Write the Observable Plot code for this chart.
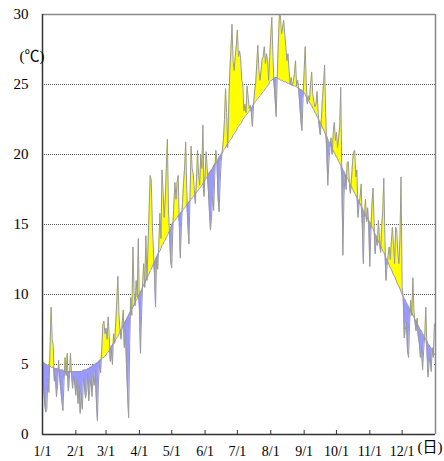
<!DOCTYPE html>
<html><head><meta charset="utf-8">
<script src="https://cdn.jsdelivr.net/npm/d3@7"></script>
<script src="https://cdn.jsdelivr.net/npm/@observablehq/plot@0.6"></script>
<style>body{margin:0;background:#fff}</style>
</head><body><div id="chart"></div>
<script>
const monthLabels = ["1/1","2/1","3/1","4/1","5/1","6/1","7/1","8/1","9/1","10/1","11/1","12/1"];
const monthStarts = [0,31,59,90,120,151,181,212,243,273,304,334];
const yTicks = [0,5,10,15,20,25,30];
const gridValues = [5,10,15,20,25];

// daily mean temperature (℃), one array per month
const dailyTemp = [
  [5.3,3.5,2.2,1.6,1.8,4.0,3.0,6.2,9.1,6.8,6.3,3.8,4.2,2.7,3.5,5.3,4.0,3.2,2.4,1.7,3.8,5.5,4.2,5.8,3.1,4.0,5.8,4.3,3.3,4.2,3.6],
  [2.8,3.9,2.2,3.5,1.5,3.0,1.8,4.0,3.4,2.6,3.0,4.4,2.4,3.3,4.0,2.7,4.2,3.5,4.6,2.5,1.0,3.8,5.0,4.4,6.0,7.8,8.1,7.2],
  [7.6,6.8,8.4,7.0,5.2,6.0,5.0,7.2,6.5,8.0,9.5,11.3,8.6,7.4,6.8,7.9,8.9,6.2,7.5,5.0,3.0,1.2,6.5,9.8,8.5,13.4,10.2,9.2,11.0,9.8,14.0],
  [9.0,5.8,8.5,10.8,12.2,10.5,14.2,11.0,13.5,16.0,18.5,18.2,15.0,13.2,11.5,9.1,12.6,11.8,13.5,15.8,14.0,18.9,17.4,15.5,16.8,19.0,21.1,16.0,14.3,12.4],
  [11.9,14.5,16.5,18.0,16.8,18.0,18.5,15.2,12.6,14.8,16.5,18.0,19.1,20.9,17.5,15.0,13.6,16.8,20.6,19.0,18.6,17.5,16.5,18.2,20.3,18.5,17.8,20.0,19.0,22.1,17.0],
  [18.5,20.2,19.0,17.5,16.0,14.6,15.5,17.0,16.0,18.5,20.3,19.5,17.0,15.9,18.0,19.5,20.3,21.0,22.5,24.7,23.0,20.5,23.5,26.0,27.5,29.3,26.7,26.0,27.0,27.8],
  [28.9,27.0,27.4,26.9,25.3,25.1,23.1,23.6,23.0,24.9,24.1,23.3,23.5,23.0,22.0,23.5,24.5,25.1,26.5,27.8,26.0,25.3,26.0,26.8,27.0,27.7,26.5,27.2,26.7,25.3,27.0],
  [28.5,29.8,27.0,25.1,24.0,22.7,25.5,28.0,30.0,29.9,28.6,29.0,29.6,28.6,27.7,26.7,27.2,26.0,25.0,25.5,24.9,25.2,25.8,26.7,24.9,25.3,24.6,23.5,22.4,21.7,24.0],
  [26.0,27.7,25.0,23.6,24.2,23.9,25.0,25.9,24.3,23.8,23.4,23.6,24.5,23.0,22.0,21.4,22.5,24.0,25.0,26.4,23.0,20.3,17.8,19.5,20.5,21.2,20.0,21.5,22.3,21.0],
  [21.6,20.5,21.2,22.0,24.8,18.5,12.8,17.0,18.6,17.5,19.4,19.5,18.0,17.2,18.3,19.5,20.2,20.3,18.4,18.9,15.5,16.4,17.0,17.9,15.0,12.2,15.5,16.8,15.2,16.2,15.0],
  [12.0,14.5,16.5,17.6,15.0,12.9,14.0,13.5,15.3,14.0,13.0,14.8,16.0,18.3,14.0,11.0,12.0,12.8,13.4,12.5,13.8,14.8,13.5,12.2,14.8,14.6,13.0,12.2,14.0,18.4],
  [10.5,9.8,6.9,7.5,8.0,6.0,5.5,8.0,9.6,8.5,11.2,8.8,8.0,7.4,8.3,7.0,6.5,5.5,6.3,4.6,6.0,7.0,9.1,6.2,4.1,5.0,5.8,4.5,6.2,5.5,7.9]
];

// normal daily temperature (℃), one array per month
const normalTemp = [
  [5.2,5.1,5.1,5.0,5.0,4.9,4.9,4.9,4.8,4.8,4.8,4.7,4.7,4.7,4.7,4.6,4.6,4.6,4.6,4.6,4.5,4.5,4.5,4.5,4.5,4.5,4.5,4.5,4.5,4.5,4.5],
  [4.5,4.5,4.5,4.5,4.5,4.5,4.5,4.6,4.6,4.6,4.6,4.7,4.7,4.8,4.8,4.9,4.9,5.0,5.0,5.1,5.1,5.2,5.3,5.3,5.4,5.5,5.5,5.6],
  [5.7,5.8,5.9,6.0,6.1,6.3,6.4,6.5,6.6,6.8,6.9,7.0,7.2,7.3,7.5,7.6,7.8,7.9,8.1,8.2,8.4,8.5,8.7,8.8,9.0,9.1,9.3,9.4,9.6,9.7,9.9],
  [10.0,10.2,10.3,10.5,10.7,10.8,11.0,11.2,11.3,11.5,11.7,11.8,12.0,12.2,12.3,12.5,12.7,12.8,13.0,13.1,13.3,13.5,13.6,13.8,13.9,14.1,14.2,14.4,14.5,14.7],
  [15.0,15.1,15.2,15.3,15.4,15.5,15.6,15.7,15.8,15.9,16.0,16.1,16.2,16.3,16.4,16.5,16.6,16.7,16.8,16.9,17.0,17.1,17.2,17.3,17.4,17.5,17.6,17.7,17.8,17.9,18.1],
  [18.2,18.3,18.4,18.6,18.7,18.8,18.9,19.0,19.2,19.3,19.4,19.5,19.6,19.8,19.9,20.0,20.1,20.3,20.4,20.5,20.6,20.8,20.9,21.0,21.1,21.2,21.4,21.5,21.6,21.7],
  [21.9,22.0,22.1,22.2,22.3,22.5,22.6,22.7,22.8,22.9,23.0,23.1,23.2,23.3,23.4,23.6,23.7,23.8,23.9,24.0,24.1,24.2,24.3,24.4,24.5,24.6,24.7,24.8,24.9,25.0,25.2],
  [25.3,25.3,25.4,25.4,25.5,25.5,25.5,25.4,25.4,25.3,25.3,25.3,25.2,25.2,25.2,25.1,25.1,25.1,25.0,25.0,25.0,24.9,24.9,24.9,24.8,24.8,24.7,24.7,24.6,24.6,24.5],
  [24.4,24.3,24.1,24.0,23.9,23.7,23.6,23.5,23.3,23.2,23.0,22.9,22.7,22.6,22.4,22.3,22.1,21.9,21.8,21.6,21.4,21.3,21.1,20.9,20.8,20.6,20.4,20.3,20.1,20.0],
  [19.8,19.7,19.5,19.4,19.2,19.1,18.9,18.8,18.6,18.5,18.3,18.2,18.0,17.8,17.7,17.5,17.4,17.2,17.1,16.9,16.8,16.6,16.5,16.3,16.2,16.0,15.9,15.7,15.6,15.4,15.3],
  [15.2,15.0,14.8,14.7,14.5,14.3,14.2,14.0,13.8,13.6,13.5,13.3,13.1,13.0,12.8,12.6,12.4,12.3,12.1,11.9,11.8,11.6,11.4,11.3,11.1,10.9,10.7,10.6,10.4,10.2],
  [10.0,9.9,9.7,9.6,9.4,9.3,9.1,9.0,8.8,8.7,8.5,8.4,8.2,8.1,7.9,7.8,7.6,7.5,7.4,7.2,7.1,6.9,6.8,6.7,6.5,6.4,6.3,6.1,6.0,5.9,5.7]
];

const daily = dailyTemp.flat();
const normal = normalTemp.flat();
const rows = daily.map((t, i) => ({day: i, t, n: normal[i]}));

const chart = Plot.plot({
  width: 444,
  height: 461,
  marginLeft: 42,
  marginRight: 9,
  marginTop: 14,
  marginBottom: 27,
  x: {domain: [0, 365], label: null},
  y: {domain: [0, 30], label: null},
  style: {fontFamily: "'Liberation Serif', 'Noto Sans CJK JP', serif", fontSize: "15px", color: "#000", background: "#fff", overflow: "visible"},
  marks: [
    Plot.ruleY(gridValues, {stroke: "#555", strokeDasharray: "1,1", strokeWidth: 1}),
    Plot.areaY(rows, {x: "day", y1: 0, y2: "n", fill: "white"}),
    Plot.areaY(rows, {x: "day", y1: "n", y2: d => Math.max(d.t, d.n), fill: "#ffff00"}),
    Plot.areaY(rows, {x: "day", y1: d => Math.min(d.t, d.n), y2: "n", fill: "#9999ff"}),
    Plot.line(rows, {x: "day", y: "n", stroke: "#999", strokeWidth: 1}),
    Plot.line(rows, {x: "day", y: "t", stroke: "#999", strokeWidth: 1}),
    Plot.ruleY([30], {stroke: "#888", strokeWidth: 1.5}),
    Plot.ruleX([365], {stroke: "#888", strokeWidth: 1.5}),
    Plot.ruleX([0], {stroke: "#333", strokeWidth: 1.5}),
    Plot.ruleY([0], {stroke: "#333", strokeWidth: 1.5}),
    Plot.ruleX(monthStarts, {insetTop: 416, stroke: "#333", strokeWidth: 1}),
    Plot.axisY(yTicks, {tickSize: 0, tickPadding: 14, fontSize: 15, label: null}),
    Plot.axisX(monthStarts, {tickSize: 0, tickPadding: 12, fontSize: 14, label: null, tickFormat: d => monthLabels[monthStarts.indexOf(d)]}),
    Plot.text(["(℃)"], {frameAnchor: "top-left", dx: -23, dy: 36, fontSize: 15}),
    Plot.text(["(日)"], {frameAnchor: "bottom-right", dx: -18, dy: 17, textAnchor: "start", fontSize: 15})
  ]
});
document.getElementById("chart").appendChild(chart);
</script>
</body></html>
